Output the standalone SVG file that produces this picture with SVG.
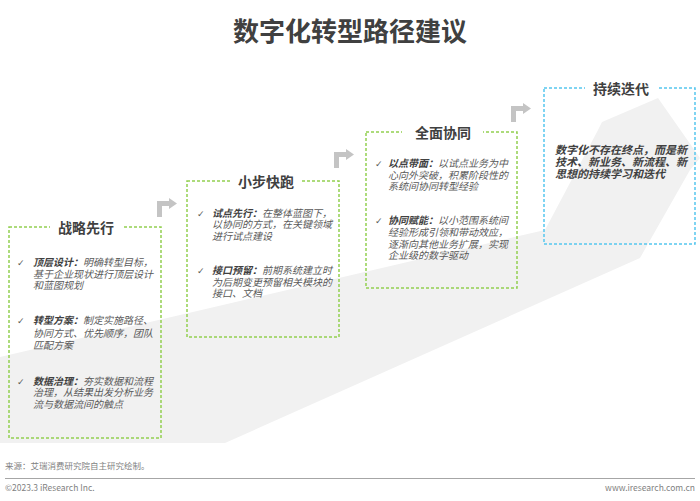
<svg xmlns="http://www.w3.org/2000/svg" width="700" height="501" viewBox="0 0 700 501">
<defs>
<style>
.t{font-family:"Noto Sans CJK SC","Noto Sans",sans-serif;fill:#404040}
.title{font-size:26px;font-weight:bold}
.h{font-size:14px;font-weight:bold;text-anchor:middle}
.b{font-family:"Liberation Sans","Noto Sans CJK SC",sans-serif;font-size:10px;font-style:italic;fill:#595959}
.b tspan.k{font-weight:bold;fill:#404040}
.ck{font-family:"DejaVu Sans",sans-serif;font-size:9px;fill:#595959}
.q{font-family:"Liberation Sans","Noto Sans CJK SC",sans-serif;font-size:11px;font-style:italic;font-weight:bold;fill:#404040}
.g{fill:none;stroke:#92d050;stroke-width:1.5;stroke-dasharray:3 2}
.bl{fill:none;stroke:#55c6ee;stroke-width:1.5;stroke-dasharray:3 2}
.gap{fill:#ffffff}
.ft{font-family:"Noto Sans CJK SC","Liberation Sans",sans-serif;font-size:8.5px;fill:#7f7f7f}
</style>
<path id="bent" d="M0,0 H12 V-3 L20,2.5 L12,8 V5 H5 V16 H0 Z" fill="#c4c4c4"/>
</defs>
<rect width="700" height="501" fill="#ffffff"/>
<path d="M0,357 L545,230 L598,130 L602,122 L658,98 L700,158 L690,170 L640,258 L225,443 L0,443 Z" fill="#f1f1f1"/>
<text class="t title" x="350" y="41" text-anchor="middle">数字化转型路径建议</text>
<g id="connectors">
<use href="#bent" x="157" y="201"/>
<use href="#bent" x="334" y="152"/>
<use href="#bent" x="511" y="106"/>
</g>
<g id="node1">
<rect class="g" x="9" y="227" width="152" height="211"/>
<rect class="gap" x="50" y="220" width="72" height="14"/>
<text class="t h" x="86" y="233">战略先行</text>
<text class="ck" x="17" y="266">✓</text>
<text class="t b" x="33" y="266"><tspan class="k">顶层设计：</tspan>明确转型目标，<tspan x="33" dy="11.5">基于企业现状进行顶层设计</tspan><tspan x="33" dy="11.5">和蓝图规划</tspan></text>
<text class="ck" x="17" y="324">✓</text>
<text class="t b" x="33" y="324"><tspan class="k">转型方案：</tspan>制定实施路径、<tspan x="33" dy="12.5">协同方式、优先顺序，团队</tspan><tspan x="33" dy="12.5">匹配方案</tspan></text>
<text class="ck" x="17" y="384.5">✓</text>
<text class="t b" x="33" y="384.5"><tspan class="k">数据治理：</tspan>夯实数据和流程<tspan x="33" dy="11.7">治理，从结果出发分析业务</tspan><tspan x="33" dy="11.7">流与数据流间的触点</tspan></text>
</g>
<g id="node2">
<rect class="g" x="187" y="181" width="152" height="156"/>
<rect class="gap" x="230" y="174" width="72" height="14"/>
<text class="t h" x="266" y="187">小步快跑</text>
<text class="ck" x="197" y="217">✓</text>
<text class="t b" x="212" y="217"><tspan class="k">试点先行：</tspan>在整体蓝图下，<tspan x="212" dy="11.3">以协同的方式，在关键领域</tspan><tspan x="212" dy="11.3">进行试点建设</tspan></text>
<text class="ck" x="197" y="274">✓</text>
<text class="t b" x="212" y="274"><tspan class="k">接口预留：</tspan>前期系统建立时<tspan x="212" dy="11.5">为后期变更预留相关模块的</tspan><tspan x="212" dy="11.5">接口、文档</tspan></text>
</g>
<g id="node3">
<rect class="g" x="366" y="132" width="151" height="156"/>
<rect class="gap" x="402" y="125" width="81" height="14"/>
<text class="t h" x="443" y="138">全面协同</text>
<text class="ck" x="375" y="167">✓</text>
<text class="t b" x="388" y="167"><tspan class="k">以点带面：</tspan>以试点业务为中<tspan x="388" dy="11.5">心向外突破，积累阶段性的</tspan><tspan x="388" dy="11.5">系统间协同转型经验</tspan></text>
<text class="ck" x="375" y="224">✓</text>
<text class="t b" x="388" y="224"><tspan class="k">协同赋能：</tspan>以小范围系统间<tspan x="388" dy="11.8">经验形成引领和带动效应，</tspan><tspan x="388" dy="11.8">逐渐向其他业务扩展，实现</tspan><tspan x="388" dy="11.8">企业级的数字驱动</tspan></text>
</g>
<g id="node4">
<rect class="bl" x="544" y="88" width="151" height="156"/>
<rect class="gap" x="585" y="81" width="72" height="14"/>
<text class="t h" x="621" y="94">持续迭代</text>
<text class="t q" x="555" y="153.5">数字化不存在终点，而是新<tspan x="555" dy="12.3">技术、新业务、新流程、新</tspan><tspan x="555" dy="12.3">思想的持续学习和迭代</tspan></text>
</g>
<text class="ft" x="5" y="469">来源：艾瑞消费研究院自主研究绘制。</text>
<line x1="5" y1="478.5" x2="695" y2="478.5" stroke="#a6a6a6" stroke-width="1"/>
<text class="ft" x="5" y="491">©2023.3 iResearch Inc.</text>
<text class="ft" x="695" y="491" text-anchor="end">www.iresearch.com.cn</text>
</svg>
